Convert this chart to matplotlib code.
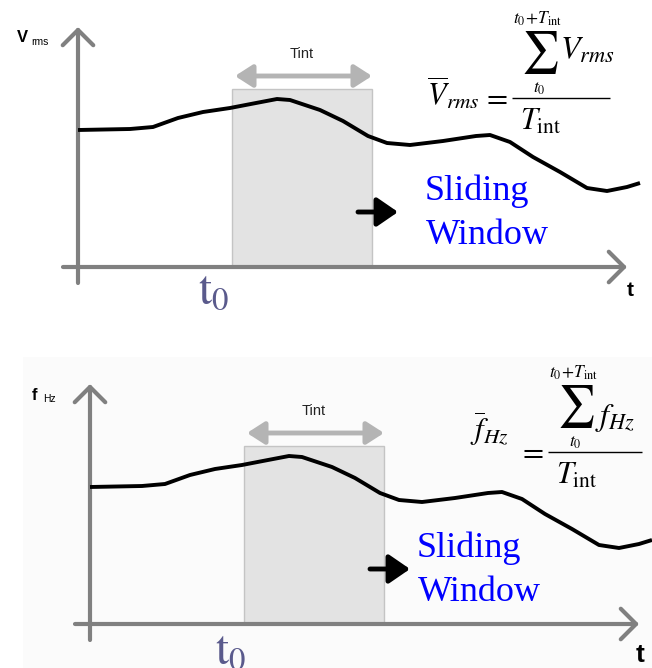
import numpy as np
import matplotlib
matplotlib.use('Agg')
import matplotlib.pyplot as plt
from matplotlib.patches import Rectangle

plt.rcParams['mathtext.fontset'] = 'stix'

# signal shape, in panel units (1 unit ~ 1 px), origin at the axes crossing
signal_t = [0, 52, 75, 100, 125, 152, 178, 199, 212, 242, 265, 290, 309, 332,
            365, 398, 412, 432, 455, 482, 509, 529, 549, 562]
signal_v = [137, 138, 140, 149, 155, 159, 164, 168, 167, 157, 146, 131, 124, 122,
            126, 131, 132, 125, 110, 95, 79, 76, 80, 84]

window_start = 154
window_len = 140
window_height = 178

axis_t_end = 549
axis_v_end = 240

panel_labels = [('V', 'rms'), ('f', 'Hz')]
mean_sym = [r'$\overline{V}_{rms}$', r'$\overline{f}_{Hz}$']
num_sym = [r'$V_{rms}$', r'$f_{Hz}$']

# per panel layout
panels = [
    dict(rect=[0, 0.5, 1, 0.5], xlim=(-78, 574), ylim=(-67, 267),
         bar=(434, 532, 169), mean=(349, 162), num=(482, 208),
         slide_x=347, t0=(136, -24), tpos=(552, -24), tsize=15),
    dict(rect=[0, 0.0, 1, 0.5], xlim=(-90, 562), ylim=(-44, 290),
         bar=(458, 552, 172), mean=(380, 184), num=(505, 199),
         slide_x=327, t0=(141, -27), tpos=(550, -31), tsize=19),
]

fig = plt.figure(figsize=(6.52, 6.68), dpi=100)
fig.patches.append(Rectangle((23 / 652, 0), 1, (668 - 357) / 668, transform=fig.transFigure,
                             facecolor='#fbfbfb', edgecolor='none', zorder=-10))

axis_col = '#808080'

for i, p in enumerate(panels):
    ax = fig.add_axes(p['rect'])
    ax.set_xlim(*p['xlim'])
    ax.set_ylim(*p['ylim'])
    ax.axis('off')

    # sliding window
    ax.add_patch(Rectangle((window_start, 0), window_len, window_height,
                           facecolor='#e3e3e3', edgecolor='#c4c4c4', lw=1, zorder=1))

    # axes with open chevron heads
    ax.annotate('', xy=(0, axis_v_end), xytext=(0, -16),
                arrowprops=dict(arrowstyle='->,head_length=0.55,head_width=0.55',
                                lw=3, color=axis_col, mutation_scale=20,
                                shrinkA=0, shrinkB=0), zorder=2)
    ax.annotate('', xy=(axis_t_end, 0), xytext=(-15, 0),
                arrowprops=dict(arrowstyle='->,head_length=0.55,head_width=0.55',
                                lw=3, color=axis_col, mutation_scale=20,
                                shrinkA=0, shrinkB=0), zorder=2)

    # signal
    ax.plot(signal_t, signal_v, color='black', lw=2.8, solid_joinstyle='round',
            solid_capstyle='butt', zorder=3)

    # Tint double arrow
    ax.annotate('', xy=(window_start + 3, window_height + 13),
                xytext=(window_start + window_len, window_height + 13),
                arrowprops=dict(arrowstyle='<|-|>,head_length=0.7,head_width=0.45',
                                lw=3.5, color='#b4b4b4', mutation_scale=15,
                                shrinkA=0, shrinkB=0), zorder=2)
    ax.text(window_start + window_len / 2, window_height + 35, 'Tint',
            ha='center', va='center', fontsize=10.5, family='Liberation Sans',
            color='#222222')

    # sliding arrow
    ax.annotate('', xy=(320, 55), xytext=(280, 55),
                arrowprops=dict(arrowstyle='-|>,head_length=0.8,head_width=0.55',
                                lw=3.5, color='black', mutation_scale=16,
                                shrinkA=0, shrinkB=0), zorder=3)
    ax.text(p['slide_x'], 67, 'Sliding', ha='left', va='baseline', fontsize=26,
            family='Liberation Serif', color='#0000ff')
    ax.text(p['slide_x'] + 1, 23, 'Window', ha='left', va='baseline', fontsize=26,
            family='Liberation Serif', color='#0000ff')

    # formula: mean = sum / Tint
    b0, b1, bv = p['bar']
    ax.plot([b0, b1], [bv, bv], color='black', lw=1, solid_capstyle='butt')
    ax.text(p['mean'][0], p['mean'][1], mean_sym[i], ha='left', va='baseline',
            fontsize=22)
    ax.text(b0 - 17, bv, '$=$', ha='center', va='center', fontsize=22)
    ax.text(b0 + 28, bv + 46, r'$\sum$', ha='center', va='center', fontsize=30)
    ax.text(p['num'][0], p['num'][1], num_sym[i], ha='left', va='baseline',
            fontsize=23)
    ax.text(b0 + 26, bv + 79, r'$t_0\!+\!T_{\mathrm{int}}$', ha='center',
            va='center', fontsize=12.5)
    ax.text(b0 + 27, bv + 10, r'$t_0$', ha='center', va='center', fontsize=12.5)
    ax.text(b0 + 29, bv - 23, r'$T_{\mathrm{int}}$', ha='center', va='center',
            fontsize=22)

    # labels
    main, sub = panel_labels[i]
    ax.text(-56, 229, main, ha='center', va='center', fontsize=12,
            family='Liberation Sans', fontweight='bold')
    ax.text(-47, 225, sub, ha='left', va='center', fontsize=7.5,
            family='Liberation Sans')
    ax.text(p['t0'][0], p['t0'][1], r'$\mathrm{t}_0$', ha='center', va='center',
            fontsize=34, color='#5a5a8c')
    ax.text(p['tpos'][0], p['tpos'][1], 't', ha='center', va='center',
            fontsize=p['tsize'], family='Liberation Sans', fontweight='bold')

fig.savefig('out.png', dpi=100)
